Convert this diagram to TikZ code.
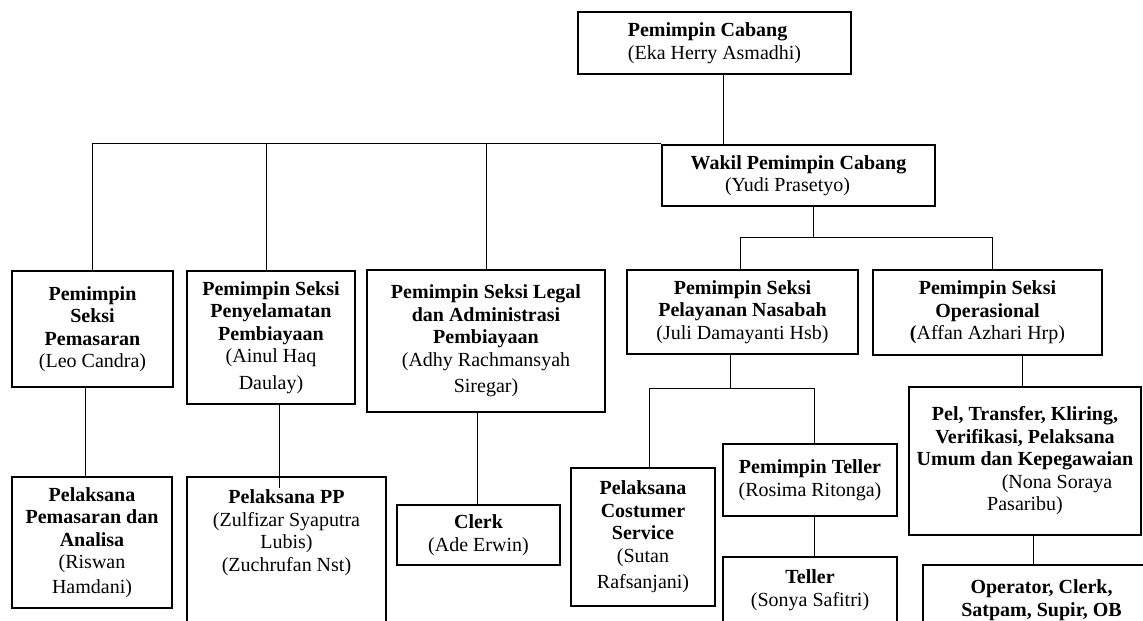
\documentclass[tikz,border=0pt]{standalone}
\usepackage{fontspec}
\setmainfont{Liberation Serif}
\begin{document}
\begin{tikzpicture}[x=1pt, y=-1pt,
    unit/.style={draw, line width=2.2pt, align=center, inner sep=0pt,
        font=\fontsize{20}{22.5}\selectfont},
    words/.style={align=center, inner sep=0pt, anchor=north,
        font=\fontsize{20}{22.5}\selectfont},
    link/.style={line width=1pt}]
    \useasboundingbox (0,0) rectangle (1143,621);

    % Pimpinan
    \node[unit, align=left, minimum width=273, minimum height=62] (cabang) at (714.5,43)
        {\textbf{Pemimpin Cabang}\\(Eka Herry Asmadhi)};
    \node[unit, minimum width=273, minimum height=61] (wakil) at (798.5,175.5)
        {\textbf{Wakil Pemimpin Cabang}\\(Yudi Prasetyo)\hspace*{22pt}};

    % Seksi
    \node[unit, minimum width=161, minimum height=116] (pemasaran) at (92.5,329)
        {\textbf{Pemimpin}\\\textbf{Seksi}\\\textbf{Pemasaran}\\(Leo Candra)};
    \node[unit, minimum width=168, minimum height=133] (penyelamatan) at (271,337.5)
        {\textbf{Pemimpin Seksi}\\\textbf{Penyelamatan}\\\textbf{Pembiayaan}\\(Ainul Haq\\[4pt]Daulay)};
    \node[unit, minimum width=238, minimum height=142] (legal) at (486,341)
        {\textbf{Pemimpin Seksi Legal}\\\textbf{dan Administrasi}\\\textbf{Pembiayaan}\\(Adhy Rachmansyah\\[4pt]Siregar)};
    \node[unit, minimum width=231, minimum height=84] (nasabah) at (742.5,312)
        {\textbf{Pemimpin Seksi}\\\textbf{Pelayanan Nasabah}\\(Juli Damayanti Hsb)};
    \node[unit, minimum width=229, minimum height=85] (operasional) at (987.5,312.5)
        {\textbf{Pemimpin Seksi}\\\textbf{Operasional}\\\textbf{(}Affan Azhari Hrp)};

    % Pelaksana
    \node[unit, minimum width=160, minimum height=131] (pelpemasaran) at (92,542.5)
        {\textbf{Pelaksana}\\\textbf{Pemasaran dan}\\\textbf{Analisa}\\(Riswan\\[2pt]Hamdani)};
    \node[unit, minimum width=199, minimum height=170] (pelpp) at (286.5,562) {};
    \node[words] (pelpp-text) at ([yshift=-14]pelpp.north)
        {\textbf{Pelaksana PP}\\(Zulfizar Syaputra\\Lubis)\\(Zuchrufan Nst)};
    \node[unit, minimum width=163, minimum height=60] (clerk) at (478.5,535)
        {\textbf{Clerk}\\(Ade Erwin)};
    \node[unit, minimum width=144, minimum height=138] (costumer) at (643,537)
        {\textbf{Pelaksana}\\\textbf{Costumer}\\\textbf{Service}\\(Sutan\\[4pt]Rafsanjani)};
    \node[unit, minimum width=174, minimum height=72] (pteller) at (810,480)
        {\textbf{Pemimpin Teller}\\(Rosima Ritonga)};
    \node[unit, minimum width=174, minimum height=100] (teller) at (810,607) {};
    \node[words] (teller-text) at ([yshift=-14]teller.north)
        {\textbf{Teller}\\(Sonya Safitri)};
    \node[unit, minimum width=232, minimum height=148] (pel) at (1025,461)
        {\textbf{Pel, Transfer, Kliring,}\\\textbf{Verifikasi, Pelaksana}\\\textbf{Umum dan Kepegawaian}\\\hspace*{64pt}(Nona Soraya\\Pasaribu)};
    \node[unit, minimum width=237, minimum height=100] (operator) at (1041.5,615) {};
    \node[words] (operator-text) at ([yshift=-16]operator.north)
        {\textbf{Operator, Clerk,}\\\textbf{Satpam, Supir, OB}};

    % Garis
    \draw[link] ([xshift=8.5]cabang.south) -- ([xshift=8.5]cabang.south |- wakil.north);
    \draw[link] (pemasaran.north) |- (wakil.north west);
    \draw[link] ([xshift=-5]penyelamatan.north) -- ([xshift=-5]penyelamatan.north |- wakil.north);
    \draw[link] (legal.north) -- (legal.north |- wakil.north);

    \draw[link] ([xshift=14.5]wakil.south) -- ++(0,30) coordinate (wbar);
    \draw[link] ([xshift=-2.5]nasabah.north) |- (wbar) -| ([xshift=4.5]operasional.north);

    \draw[link] ([xshift=-12.5]nasabah.south) -- ++(0,33) coordinate (nbar);
    \draw[link] ([xshift=6]costumer.north) |- (nbar) -| ([xshift=4]pteller.north);
    \draw[link] ([xshift=4]pteller.south) -- ([xshift=4]teller.north);

    \draw[link] ([xshift=34.5]operasional.south) -- ([xshift=34.5]operasional.south |- pel.north);
    \draw[link] ([xshift=8]pel.south) -- ([xshift=8]operator.north -| pel.south);

    \draw[link] ([xshift=-7.5]pemasaran.south) -- ([xshift=-7.5]pemasaran.south |- pelpemasaran.north);
    \draw[link] ([xshift=8]penyelamatan.south) -- ++(0,83);
    \draw[link] ([xshift=-9]legal.south) -- ([xshift=-9]legal.south |- clerk.north);
\end{tikzpicture}
\end{document}
